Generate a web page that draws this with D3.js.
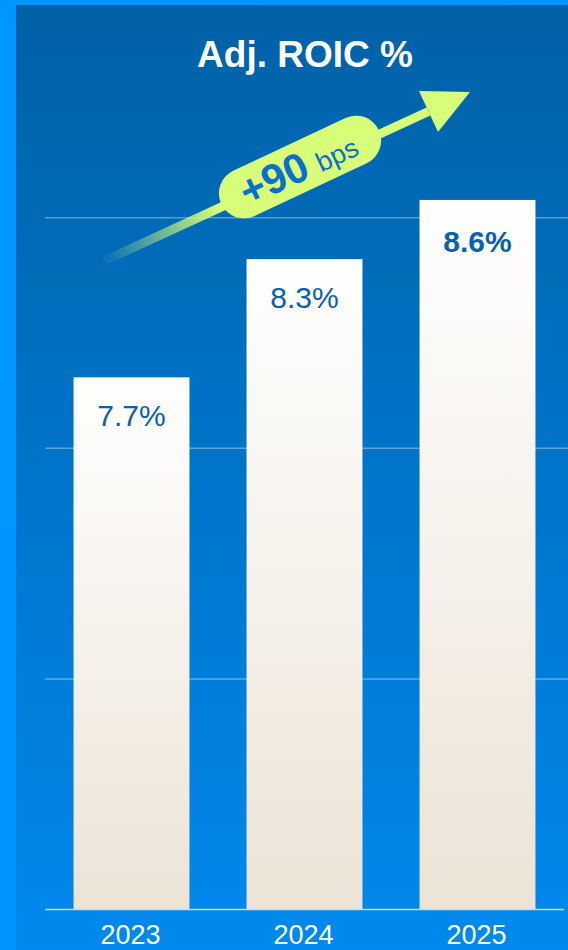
<!DOCTYPE html>
<html>
<head>
<meta charset="utf-8">
<script src="https://cdn.jsdelivr.net/npm/d3@7"></script>
<style>
  body { margin: 0; background: #0096ff; }
  svg { display: block; font-family: "Liberation Sans", Arial, sans-serif; }
</style>
</head>
<body>
<div id="chart"></div>
<script>
// data
const years = ["2023", "2024", "2025"];
const roic = [7.7, 8.3, 8.6];
const valueLabels = ["7.7%", "8.3%", "8.6%"];
const gridValues = [6.17, 7.34, 8.51];
const title = "Adj. ROIC %";
const changeBig = "+90";
const changeSmall = "bps";

const W = 568, H = 950;

const svg = d3.select("#chart").append("svg")
    .attr("width", W)
    .attr("height", H);

const defs = svg.append("defs");

// panel background
const bg = defs.append("linearGradient")
    .attr("id", "bg").attr("x1", 0).attr("y1", 0).attr("x2", 0).attr("y2", 1);
bg.append("stop").attr("offset", 0).attr("stop-color", "#0061a7");
bg.append("stop").attr("offset", 1).attr("stop-color", "#0089ee");

const barGrad = defs.append("linearGradient")
    .attr("id", "barGrad").attr("x1", 0).attr("y1", 0).attr("x2", 0).attr("y2", 1);
barGrad.append("stop").attr("offset", 0).attr("stop-color", "#ffffff");
barGrad.append("stop").attr("offset", 1).attr("stop-color", "#ece3d6");

svg.append("rect")
    .attr("x", 16).attr("y", 5)
    .attr("width", W - 16).attr("height", H - 5)
    .attr("fill", "url(#bg)");

// scales
const x = d3.scaleBand()
    .domain(years)
    .range([45, 564])
    .paddingInner(0.33)
    .paddingOuter(0.165);

const y = d3.scaleLinear()
    .domain([5, 9])
    .range([909.5, 909.5 - 4 * 197.1]);

// gridlines
svg.append("g")
    .selectAll("line")
    .data(gridValues)
    .join("line")
    .attr("x1", 45).attr("x2", W)
    .attr("y1", d => y(d)).attr("y2", d => y(d))
    .attr("stroke", "rgba(255,255,255,0.35)")
    .attr("stroke-width", 1.5);

// bars
svg.append("g")
    .selectAll("rect")
    .data(years)
    .join("rect")
    .attr("x", d => x(d))
    .attr("y", (d, i) => y(roic[i]))
    .attr("width", x.bandwidth())
    .attr("height", (d, i) => y(5) - y(roic[i]))
    .attr("fill", "url(#barGrad)");

// baseline
svg.append("line")
    .attr("x1", 45).attr("x2", 564)
    .attr("y1", y(5)).attr("y2", y(5))
    .attr("stroke", "#c9d9e8")
    .attr("stroke-width", 1.5);

// value labels
svg.append("g")
    .selectAll("text")
    .data(years)
    .join("text")
    .attr("x", d => x(d) + x.bandwidth() / 2)
    .attr("y", (d, i) => y(roic[i]) + (i === 2 ? 52 : 49))
    .attr("text-anchor", "middle")
    .attr("font-size", 30)
    .attr("font-weight", (d, i) => i === 2 ? "bold" : "normal")
    .attr("fill", "#0b62ab")
    .text((d, i) => valueLabels[i]);

// year labels
svg.append("g")
    .selectAll("text")
    .data(years)
    .join("text")
    .attr("x", d => x(d) + x.bandwidth() / 2 - 1)
    .attr("y", 944)
    .attr("text-anchor", "middle")
    .attr("font-size", 27)
    .attr("fill", "#ffffff")
    .text(d => d);

// title
svg.append("text")
    .attr("x", 305)
    .attr("y", 67)
    .attr("text-anchor", "middle")
    .attr("font-size", 37)
    .attr("font-weight", "bold")
    .attr("fill", "#ffffff")
    .text(title);

// growth arrow
const lime = "#d8fe79";
const start = [102, 262], baseMid = [428.5, 111.5], tip = [470, 92];
const ang = Math.atan2(tip[1] - baseMid[1], tip[0] - baseMid[0]) * 180 / Math.PI;

const shaftGrad = defs.append("linearGradient")
    .attr("id", "shaft")
    .attr("gradientUnits", "userSpaceOnUse")
    .attr("x1", start[0]).attr("y1", start[1])
    .attr("x2", baseMid[0]).attr("y2", baseMid[1]);
shaftGrad.append("stop").attr("offset", 0).attr("stop-color", lime).attr("stop-opacity", 0);
shaftGrad.append("stop").attr("offset", 0.36).attr("stop-color", lime).attr("stop-opacity", 1);
shaftGrad.append("stop").attr("offset", 1).attr("stop-color", lime).attr("stop-opacity", 1);

svg.append("line")
    .attr("x1", start[0]).attr("y1", start[1])
    .attr("x2", baseMid[0]).attr("y2", baseMid[1])
    .attr("stroke", "url(#shaft)")
    .attr("stroke-width", 9);

svg.append("path")
    .attr("d", `M${tip[0]},${tip[1]} L419,91 L438,132 Z`)
    .attr("fill", lime);

const pill = svg.append("g")
    .attr("transform", `translate(300,167) rotate(${ang})`);

pill.append("rect")
    .attr("x", -87).attr("y", -25)
    .attr("width", 174).attr("height", 50)
    .attr("rx", 25)
    .attr("fill", lime);

const pt = pill.append("text")
    .attr("x", -2)
    .attr("y", 14)
    .attr("text-anchor", "middle")
    .attr("fill", "#0a6fcb");
pt.append("tspan")
    .attr("font-size", 42)
    .attr("font-weight", "bold")
    .text(changeBig);
pt.append("tspan")
    .attr("font-size", 27)
    .attr("dx", 10)
    .text(changeSmall);
</script>
</body>
</html>
